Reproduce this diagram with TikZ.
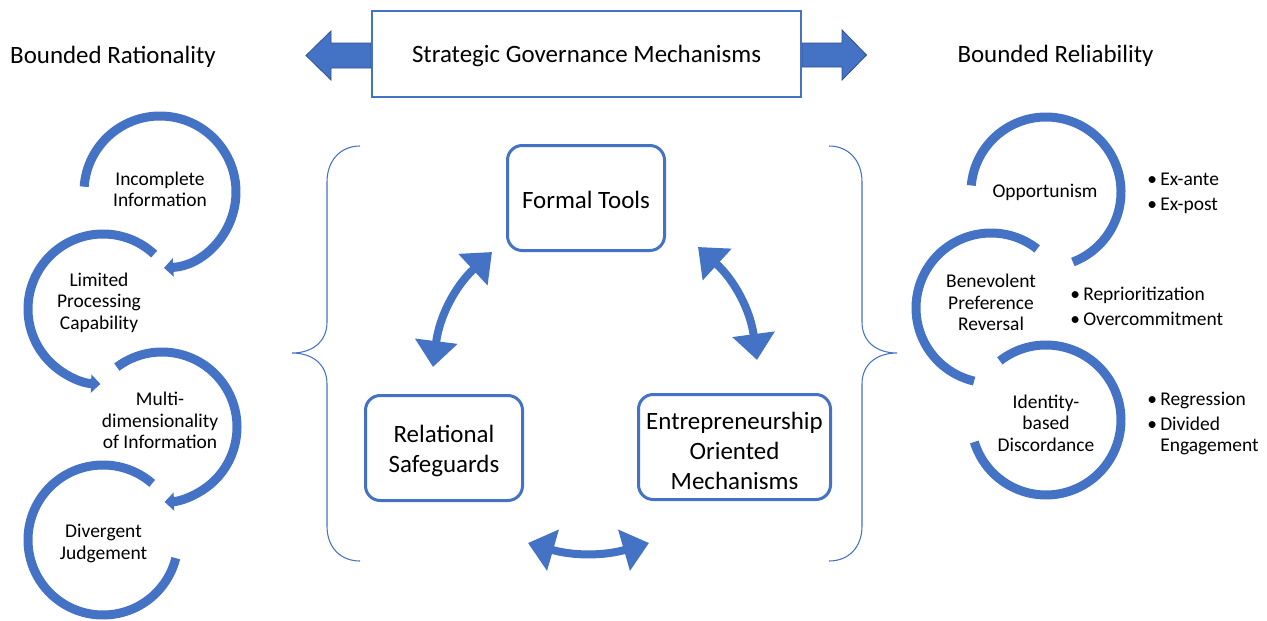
\documentclass[tikz,border=0pt]{standalone}
\usepackage{fontspec}
\setmainfont{Carlito}
\usetikzlibrary{arrows.meta}
\definecolor{accent}{HTML}{4472C4}
\definecolor{accentdark}{HTML}{2F528F}

\begin{document}
\begin{tikzpicture}[x=0.75pt,y=-0.75pt,
  ring/.style={draw=accent, line width=6.75pt},
  ringarrow/.style={ring, -{Triangle[length=7pt,width=13.5pt]}},
  cycarrow/.style={draw=accent, line width=6pt,
    {Triangle[length=19.5pt,width=31pt]}-{Triangle[length=19.5pt,width=31pt]}},
  mechbox/.style={draw=accent, line width=2.25pt, rounded corners=11pt, fill=white,
    align=center, inner sep=0pt, font=\fontsize{18.7}{22.5}\selectfont},
  titlebox/.style={draw=accent, line width=1.5pt, fill=white, inner sep=0pt,
    minimum width=321.75pt, minimum height=64.5pt, font=\fontsize{18.7}{22.5}\selectfont},
  heading/.style={inner sep=0pt, font=\fontsize{18.7}{22.5}\selectfont},
  ringlabel/.style={align=center, inner sep=0pt, font=\fontsize{14.6}{16}\selectfont},
  bulletlist/.style={anchor=west, inner sep=0pt, font=\fontsize{14.6}{18.75}\selectfont},
  bracket/.style={draw=accent, line width=0.8pt},
  blockarrow/.style={fill=accent, draw=accentdark, line width=0.6pt},
]
\useasboundingbox (0,0) rectangle (1267,621);

% ---------- header ----------
\node[heading] (rationality) at (113,57) {Bounded Rationality};
\node[heading] (reliability) at (1055.5,55.5) {Bounded Reliability};

\filldraw[blockarrow] (371,43) -- (331,43) -- (331,31) -- (306,55.5) -- (331,80)
  -- (331,68) -- (371,68) -- cycle;
\filldraw[blockarrow] (802,43) -- (842,43) -- (842,30) -- (866.5,55) -- (842,80)
  -- (842,67) -- (802,67) -- cycle;
\node[titlebox] (title) at (586.5,54) {};
\node[heading] (titletext) at (586.5,55.5) {Strategic Governance Mechanisms};

% ---------- braces around the governance mechanisms ----------
\draw[bracket] (360,146) .. controls (341,146) and (327,160) .. (327,182)
  -- (327,322) .. controls (327,342) and (312,353) .. (292,353)
  .. controls (312,353) and (327,364) .. (327,384)
  -- (327,526) .. controls (327,548) and (341,561) .. (360,561);
\draw[bracket] (829,146) .. controls (848,146) and (862,160) .. (862,182)
  -- (862,322) .. controls (862,342) and (877,353) .. (897,353)
  .. controls (877,353) and (862,364) .. (862,384)
  -- (862,526) .. controls (862,548) and (848,561) .. (829,561);

% ---------- governance mechanisms ----------
\node[mechbox, minimum width=117.75pt, minimum height=78.75pt] (formal) at (586,198) {};
\node[mechbox, minimum width=117.75pt, minimum height=78.75pt] (relational) at (444,448) {};
\node[mechbox, minimum width=144pt, minimum height=78.75pt] (entre) at (734.5,447) {};
\node[mechbox, draw=none, fill=none] (formaltext) at (586,200) {Formal Tools};
\node[mechbox, draw=none, fill=none] (relationaltext) at (444,451) {Relational\\Safeguards};
\node[mechbox, draw=none, fill=none] (entretext) at (734.5,450.5) {Entrepreneurship\\Oriented\\Mechanisms};

\coordinate (fr1) at (433,367);
\coordinate (fr2) at (492,252);
\coordinate (fe1) at (698,247);
\coordinate (fe2) at (757,360);
\coordinate (re1) at (528,543);
\coordinate (re2) at (649,543);
\draw[cycarrow] (fr1) to[bend left=20] (fr2);
\draw[cycarrow] (fe1) to[bend left=20] (fe2);
\draw[cycarrow] (re1) to[bend right=16] (re2);

% ---------- bounded rationality chain ----------
\coordinate (c1) at (160,192);
\coordinate (c2) at (103,309);
\coordinate (c3) at (162,427);
\coordinate (c4) at (103,540);
\draw[ringarrow] (c1) ++(184:76) arc[start angle=184, end angle=447, radius=76];
\draw[ringarrow] (c2) ++(313:75) arc[start angle=313, end angle=92, radius=75];
\draw[ringarrow] (c3) ++(233:75) arc[start angle=233, end angle=448, radius=75];
\draw[ring] (c4) ++(311:75) arc[start angle=311, end angle=14, radius=75];

\node[ringlabel] (incomplete) at (160,189.5) {Incomplete\\Information};
\node[ringlabel] (limited) at (99,302.5) {Limited\\Processing\\Capability};
\node[ringlabel] (multi) at (160,420.5) {Multi-\\dimensionality\\of Information};
\node[ringlabel] (divergent) at (103.5,543.5) {Divergent\\Judgement};

% ---------- bounded reliability chain ----------
\coordinate (d1) at (1046,192);
\coordinate (d2) at (991,308);
\coordinate (d3) at (1046,420);
\draw[ring] (d1) ++(185:75) arc[start angle=185, end angle=429, radius=75];
\draw[ring] (d2) ++(308:75) arc[start angle=308, end angle=103, radius=75];
\draw[ring] (d3) ++(232:75) arc[start angle=232, end angle=523, radius=75];

\node[ringlabel] (opportunism) at (1045,192.5) {Opportunism};
\node[ringlabel] (benevolent) at (991,302.5) {Benevolent\\Preference\\Reversal};
\node[ringlabel] (identity) at (1046,423) {Identity-\\based\\Discordance};

\node[bulletlist] (oppitems) at (1147,192.5) {%
  \begin{tabular}{@{}l@{}l@{}}
  \makebox[9.75pt][l]{\textbullet} & Ex-ante\\
  \makebox[9.75pt][l]{\textbullet} & Ex-post
  \end{tabular}};
\node[bulletlist] (benitems) at (1070,307.5) {%
  \begin{tabular}{@{}l@{}l@{}}
  \makebox[9.75pt][l]{\textbullet} & Reprioritization\\
  \makebox[9.75pt][l]{\textbullet} & Overcommitment
  \end{tabular}};
\node[bulletlist] (iditems) at (1147,423.5) {%
  \begin{tabular}{@{}l@{}l@{}}
  \makebox[9.75pt][l]{\textbullet} & Regression\\
  \makebox[9.75pt][l]{\textbullet} & Divided\\[-3pt]
  & Engagement
  \end{tabular}};
\end{tikzpicture}
\end{document}
